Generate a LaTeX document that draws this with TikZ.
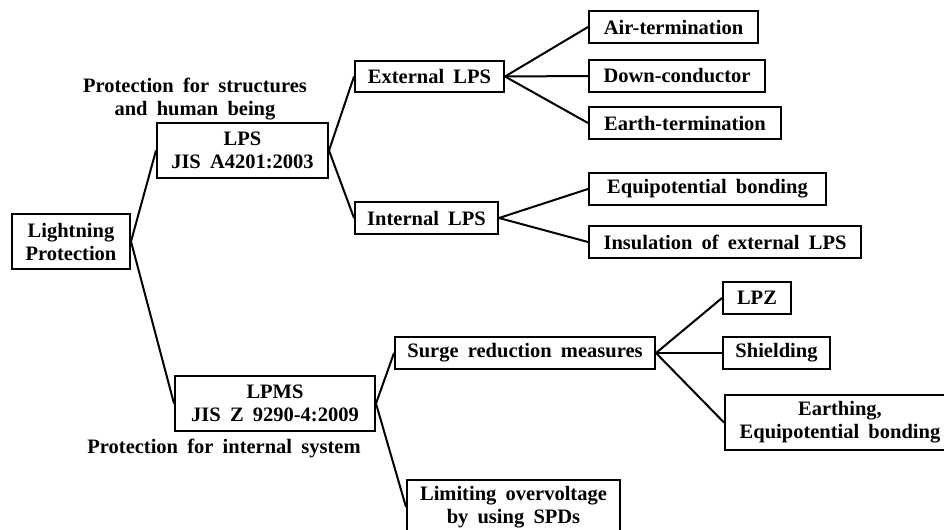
\documentclass[tikz,border=0pt]{standalone}
\usepackage{fontspec}
\setmainfont{Liberation Serif}
\usetikzlibrary{positioning}

% bold serif with wide word gaps
\newcommand{\treefont}{\bfseries\fontsize{10.25}{11.5}\selectfont\spaceskip=4.6pt plus 1pt minus 1pt\relax}

\tikzset{
  box/.style={draw, line width=1pt, inner sep=0pt, align=center, font=\treefont},
  note/.style={inner sep=0pt, align=center, font=\treefont},
  link/.style={line width=1pt}
}

\begin{document}
\begin{tikzpicture}[x=0.5pt,y=-0.5pt]

            %\draw [help lines] (0,0) grid (944,530);
            \useasboundingbox (0,0) rectangle (944,530);

            \path   (71,241.5)  node (lp)  [box,minimum width=59pt,minimum height=27.5pt] {Lightning\\Protection}
                    (242.5,150.5) node (lps) [box,minimum width=85.5pt,minimum height=27.5pt] {LPS\\JIS A4201:2003}
                    (275,403.5) node (lpms) [box,minimum width=100pt,minimum height=27.5pt] {LPMS\\JIS Z 9290-4:2009};

            % notes beside the two standards
            \path   (195,99) node (n1) [note] {Protection for structures\\and human being}
                    (224,448) node (n2) [note] {Protection for internal system};

            % external and internal LPS
            \path   (429.5,76.5) node (ext) [box,minimum width=74.5pt,minimum height=15.5pt] {External LPS}
                    (426.5,218) node (int) [box,minimum width=71.5pt,minimum height=16pt] {Internal LPS}
                    (673.5,27) node (air) [box,minimum width=84.5pt,minimum height=16pt] {Air-termination}
                    (677,76) node (down) [box,minimum width=88pt,minimum height=16pt] {Down-conductor}
                    (685,123) node (earth) [box,minimum width=96pt,minimum height=16pt] {Earth-termination}
                    (707.5,189) node (equi) [box,minimum width=118.5pt,minimum height=16pt] {Equipotential bonding}
                    (725,242) node (insul) [box,minimum width=136pt,minimum height=16pt] {Insulation of external LPS};

            % surge protection side
            \path   (525,353) node (surge) [box,minimum width=130pt,minimum height=16pt] {Surge reduction measures}
                    (513.5,507) node (spd) [box,minimum width=106.5pt,minimum height=27.5pt] {Limiting overvoltage\\by using SPDs}
                    (757,298) node (lpz) [box,minimum width=34pt,minimum height=16pt] {LPZ}
                    (776.5,353) node (shield) [box,minimum width=53.5pt,minimum height=16pt] {Shielding}
                    (840,422.5) node (bond) [box,minimum width=115pt,minimum height=27.5pt] {Earthing,\\Equipotential bonding};

            \draw[link] (node cs: name=lp, anchor=east) -- (node cs: name=lps, anchor=west);
            \draw[link] (node cs: name=lp, anchor=east) -- (node cs: name=lpms, anchor=west);
            \draw[link] (node cs: name=lps, anchor=east) -- (node cs: name=ext, anchor=west);
            \draw[link] (node cs: name=lps, anchor=east) -- (node cs: name=int, anchor=west);
            \draw[link] (node cs: name=ext, anchor=east) -- (node cs: name=air, anchor=west);
            \draw[link] (node cs: name=ext, anchor=east) -- (node cs: name=down, anchor=west);
            \draw[link] (node cs: name=ext, anchor=east) -- (node cs: name=earth, anchor=west);
            \draw[link] (node cs: name=int, anchor=east) -- (node cs: name=equi, anchor=west);
            \draw[link] (node cs: name=int, anchor=east) -- (node cs: name=insul, anchor=west);
            \draw[link] (node cs: name=lpms, anchor=east) -- (node cs: name=surge, anchor=west);
            \draw[link] (node cs: name=lpms, anchor=east) -- (node cs: name=spd, anchor=west);
            \draw[link] (node cs: name=surge, anchor=east) -- (node cs: name=lpz, anchor=west);
            \draw[link] (node cs: name=surge, anchor=east) -- (node cs: name=shield, anchor=west);
            \draw[link] (node cs: name=surge, anchor=east) -- (node cs: name=bond, anchor=west);

        \end{tikzpicture}
\end{document}
